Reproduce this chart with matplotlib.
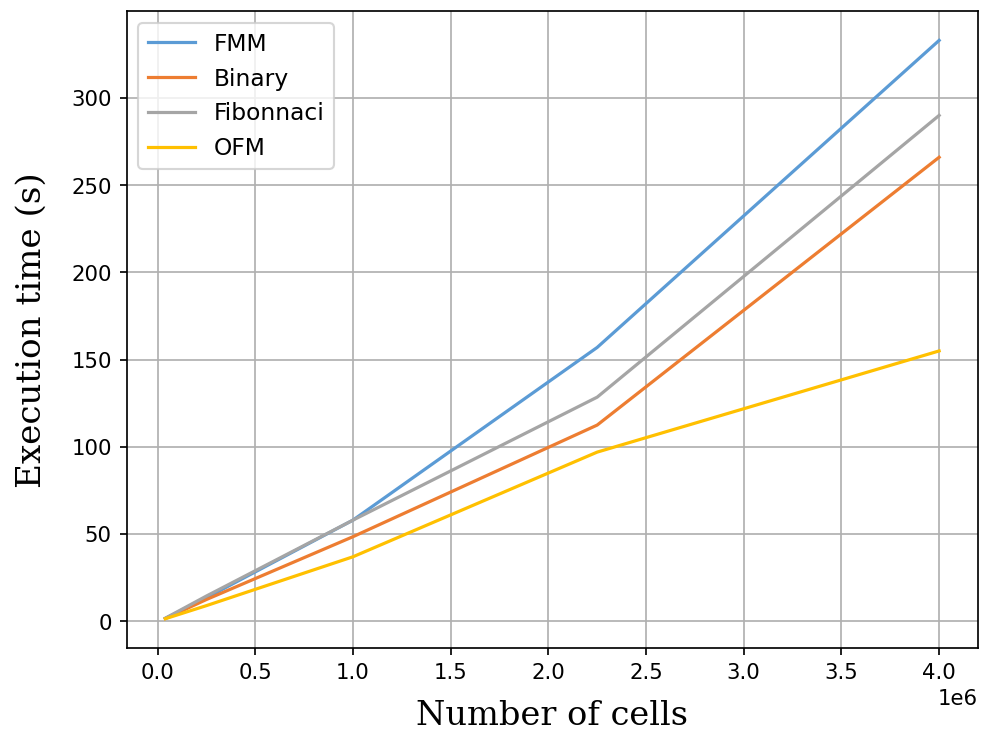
import matplotlib
matplotlib.use("Agg")
import matplotlib.pyplot as plt

cells = [0.04e6, 0.25e6, 1.0e6, 2.25e6, 4.0e6]
fmm = [1.7, 13.5, 58, 157, 333]
binary = [1.6, 12.5, 48.5, 112.5, 266]
fibonnaci = [1.8, 14.5, 58, 128.5, 290]
ofm = [1.5, 9.0, 37, 97, 155]

labels = ["FMM", "Binary", "Fibonnaci", "OFM"]
colors = ["#5B9BD5", "#ED7D31", "#A5A5A5", "#FFC000"]

fig, ax = plt.subplots(figsize=(6.4, 4.8), dpi=153.4)
fig.subplots_adjust(left=0.129, right=0.996, top=0.984, bottom=0.12)

for series, name, c in zip([fmm, binary, fibonnaci, ofm], labels, colors):
    ax.plot(cells, series, label=name, color=c, lw=1.5)

ax.grid(True, color="#b0b0b0", lw=0.8)
ax.set_xlabel("Number of cells", family="DejaVu Serif", fontsize=15.8, labelpad=8)
ax.set_ylabel("Execution time (s)", family="DejaVu Serif", fontsize=16, labelpad=11)
ax.legend(loc="upper left", fontsize=11)

plt.savefig("out.png")
plt.close()
